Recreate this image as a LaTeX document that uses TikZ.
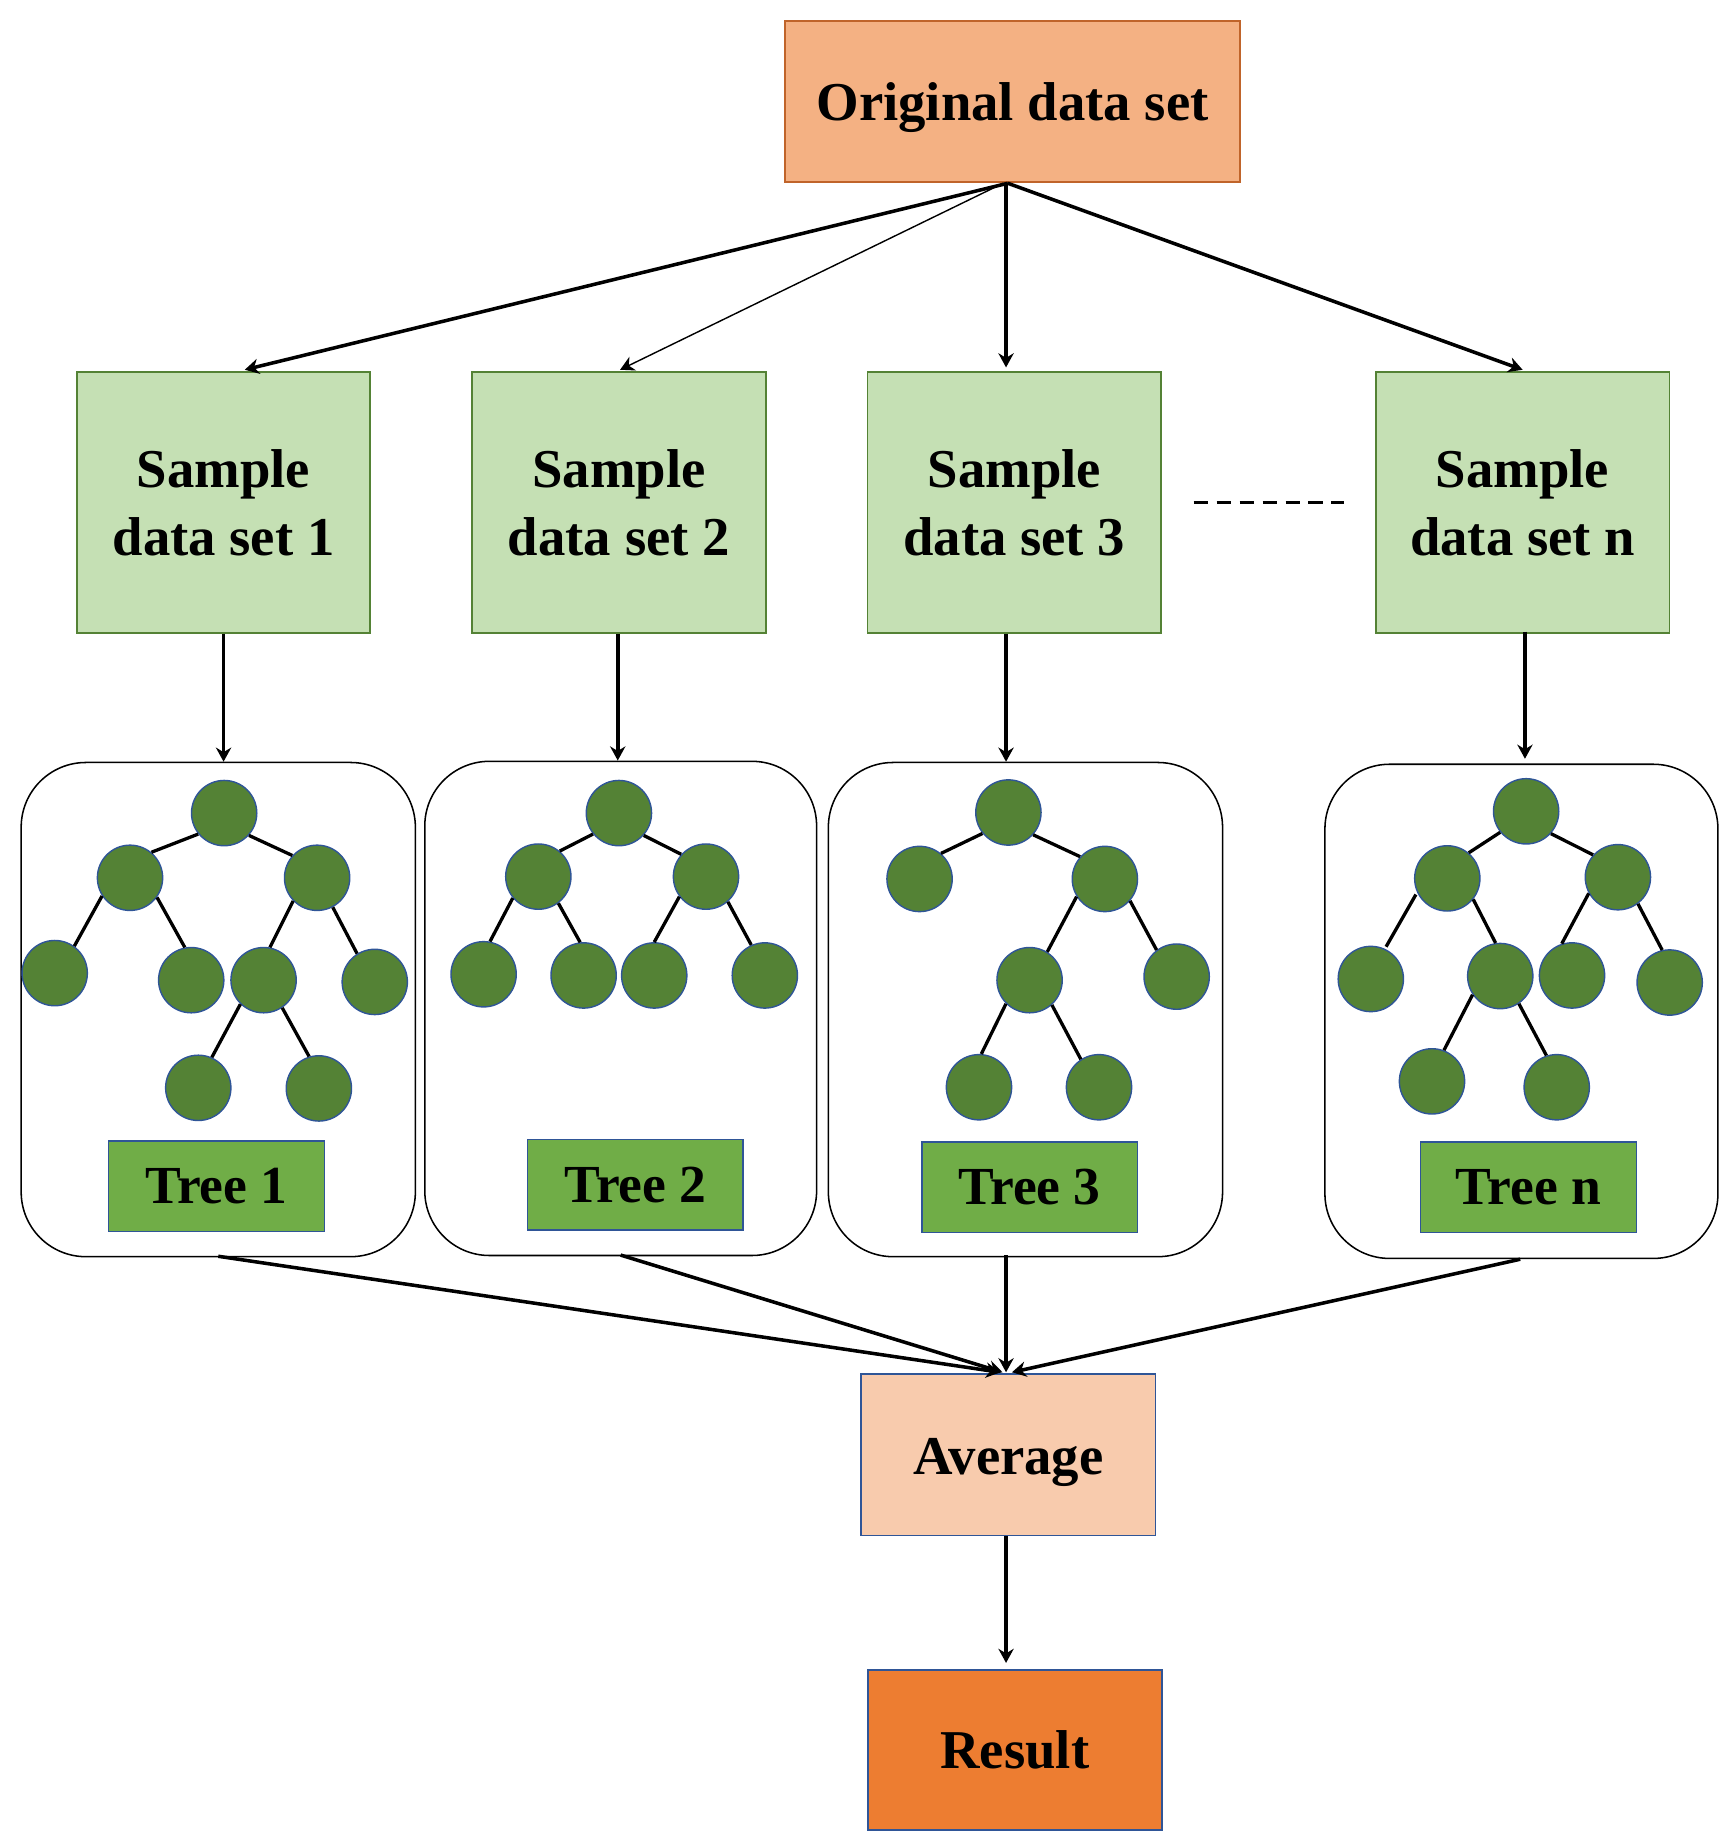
\documentclass[tikz,border=0pt]{standalone}
\usepackage{fontspec}
\setmainfont{Liberation Serif}
\usetikzlibrary{arrows.meta, positioning, calc}
\definecolor{origfill}{HTML}{F4B183}
\definecolor{origedge}{HTML}{C0642A}
\definecolor{sampfill}{HTML}{C5E0B4}
\definecolor{sampedge}{HTML}{548235}
\definecolor{leafgreen}{HTML}{548235}
\definecolor{treegreen}{HTML}{70AD47}
\definecolor{avgfill}{HTML}{F8CBAD}
\definecolor{resfill}{HTML}{ED7D31}
\definecolor{navyedge}{HTML}{2F5597}
\tikzset{
    labelbox/.style={rectangle, inner sep=0pt, line width=1.5pt, align=center, font=\fontsize{46.5}{58}\selectfont\bfseries},
    origbox/.style={labelbox, draw=origedge, fill=origfill, minimum width=387pt, minimum height=137pt, text height=42pt},
    sampbox/.style={labelbox, draw=sampedge, fill=sampfill, minimum width=249.5pt, minimum height=222pt},
    avgbox/.style={labelbox, draw=navyedge, fill=avgfill, minimum width=250pt, minimum height=137pt, text height=43pt},
    resbox/.style={labelbox, draw=navyedge, fill=resfill, minimum width=249.5pt, minimum height=136pt},
    treebox/.style={rectangle, draw=black, line width=1.3pt, rounded corners=55pt, minimum height=420pt, inner sep=0pt},
    tagbox/.style={labelbox, draw=navyedge, fill=treegreen, minimum width=183.5pt, minimum height=77pt, font=\fontsize{45.5}{52}\selectfont\bfseries},
    leaf/.style={circle, draw=navyedge, fill=leafgreen, line width=1.2pt, minimum size=55.5pt, inner sep=0pt},
    branch/.style={line width=2.8pt, draw=black},
    arrow/.style={-{Stealth[length=12pt, width=13pt]}, line width=3pt, draw=black},
    thinarrow/.style={-{Stealth[length=12pt, width=13pt]}, line width=1.2pt, draw=black}
}
\begin{document}
\begin{tikzpicture}[x=1pt, y=-1pt]
    \useasboundingbox (0,0) rectangle (1475,1568);
    \node[origbox] (orig) at (860.5,86.5) {Original data set};
    \foreach \name/\x/\lab in {sampa/190/1,sampb/526/2,sampc/862/3,sampn/1294/n} {
        \node[sampbox] (\name) at (\x,427) {Sample\\data set \lab};
    }
    \foreach \name/\x/\y/\bw in {boxa/185.5/858/335,boxb/527.5/857/333,boxc/871.5/858/335,boxn/1293/859.5/334} {
        \node[treebox, minimum width=\bw pt] (\name) at (\x,\y) {};
    }
    \foreach \name/\x/\y/\lab in {taga/184/1008/Tree 1,tagb/540/1007/Tree 2,tagc/875/1009/Tree 3,tagn/1299/1009/Tree n} {
        \node[tagbox] (\name) at (\x,\y) {\lab};
    }
    \node[avgbox] (avg) at (857,1236.5) {Average};
    \node[resbox] (res) at (862.5,1487) {Result};
    % tree nodes
    \foreach \name/\x/\y in {ar/190.5/691,al/110.5/746,ac/269.5/746,all/46.5/827,alr/162.5/833,acl/224/833,acr/318.5/834.5,acll/168.5/924.5,aclr/271/925,
        br/526/691,bl/457.5/745,bc/600/745,bll/411/828,blr/496/829,bcl/556/829,bcr/650/829,
        cr/857/690.5,cl/781.5/747,cc/939/747,ccl/875/833,ccr/1000/830,ccll/832/924,cclr/934/924,
        nr/1297/689.5,nl/1230/746.5,nc/1375/745.5,nll/1165/832,nlr/1275/829.5,ncl/1336/829,ncr/1419/835,nlrl/1217/919,nlrr/1323/924} {
        \node[leaf] (\name) at (\x,\y) {};
    }
    \foreach \pa/\ch in {ar/al,br/bl,cr/cl,nr/nl} \draw[branch] (\pa.219) -- (\ch.50);
    \foreach \pa/\ch in {ar/ac,br/bc,cr/cc,nr/nc} \draw[branch] (\pa.318) -- (\ch.138);
    \foreach \pa/\ch/\s/\e in {al/all/213/54,al/alr/324/101,ac/acl/224/79,ac/acr/298/122,acl/acll/226/66,acl/aclr/304/107,
        bl/bll/220/79,bl/blr/307/96,bc/bcl/217/90,bc/bcr/311/114,
        cc/ccl/212/58,cc/ccr/319/127,ccl/ccll/225/86,ccl/cclr/312/123,
        nl/nlr/321/98,nc/ncl/209/108,nc/ncr/307/103,nlr/nlrl/214/69,nlr/nlrr/304/108} {
        \draw[branch] (\pa.\s) -- (\ch.\e);
    }
    \draw[branch, shorten <=2pt, shorten >=2pt] (nl.205) -- (nll.65);
    % arrows from the original data set
    \draw[arrow] ([xshift=-4pt]orig.south) -- ([xshift=18pt,yshift=1pt]sampa.north);
    \draw[thinarrow] ([xshift=-8pt]orig.south) -- ([xshift=1pt,yshift=1pt]sampb.north);
    \draw[arrow] ([xshift=-5.5pt]orig.south) -- ([xshift=-7pt,yshift=3pt]sampc.north);
    \draw[arrow] ([xshift=-4pt]orig.south) -- ([yshift=1pt]sampn.north);
    \draw[line width=2.6pt, dash pattern=on 12.5pt off 7pt] ([xshift=27pt]sampc.east) -- ([xshift=-26pt]sampn.west);
    % samples to trees
    \draw[arrow] (sampa.south) -- (boxa.north -| sampa.south);
    \draw[arrow] ([xshift=-1pt]sampb.south) -- ([xshift=-2.5pt]boxb.north);
    \draw[arrow] ([xshift=-7pt]sampc.south) -- ([xshift=-16.5pt]boxc.north);
    \draw[arrow] ([xshift=2pt,yshift=2pt]sampn.south) -- ([xshift=3pt,yshift=4pt]boxn.north);
    % trees to average
    \draw[arrow] ([yshift=1pt]boxa.south) -- ([xshift=-7pt,yshift=1pt]avg.north);
    \draw[arrow] ([yshift=1pt]boxb.south) -- ([xshift=-5pt,yshift=1pt]avg.north);
    \draw[arrow] ([xshift=-16.5pt,yshift=2pt]boxc.south) -- ([xshift=-2pt,yshift=1pt]avg.north);
    \draw[arrow] ([xshift=-1pt]boxn.south) -- ([xshift=3pt,yshift=1pt]avg.north);
    \draw[arrow] ([xshift=-2pt]avg.south) -- ([xshift=-7.5pt,yshift=5pt]res.north);
\end{tikzpicture}
\end{document}
